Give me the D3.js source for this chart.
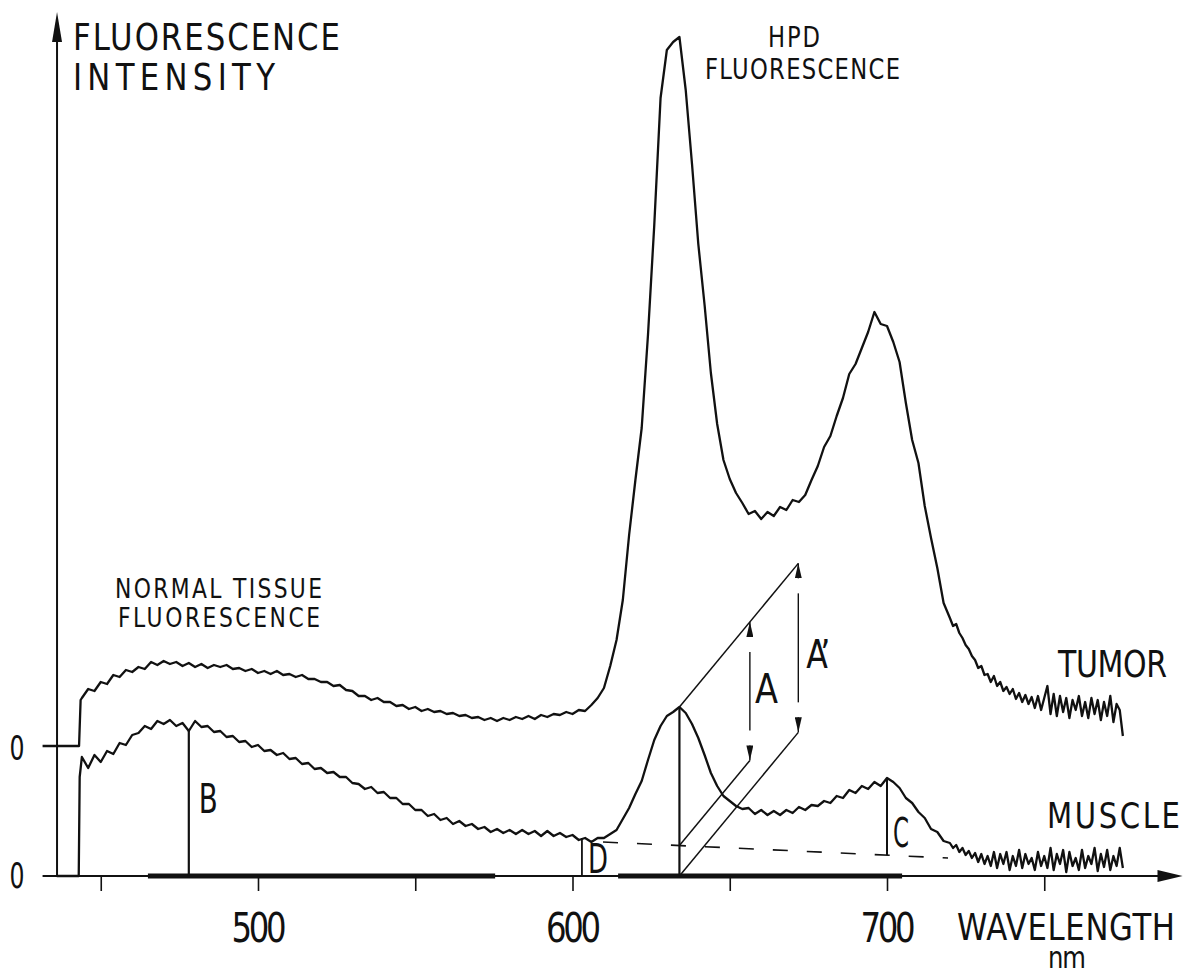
<!DOCTYPE html>
<html>
<head>
<meta charset="utf-8">
<script src="https://cdn.jsdelivr.net/npm/d3@7"></script>
<style>
  body { margin: 0; background: #fff; }
  svg text { font-family: "DejaVu Sans Condensed", "DejaVu Sans", sans-serif; fill: #111; }
</style>
</head>
<body>
<div id="chart"></div>
<script>
// svg area
var svgWidth = 1194;
var svgHeight = 975;

// wavelength grid (nm) the traces were read on: 2 nm steps, 1 nm in the noisy tails
var gridWl = d3.range(444, 721, 2).concat(d3.range(721, 776));

// tumor trace (arbitrary units above its own zero line)
var tumorLeadWl = [431.5, 443.1, 443.6];
var tumorLead = [0, 0, 46];
var tumorValues = [
  48, 57, 55, 64, 62, 71, 69, 76, 74, 79,
  77, 84, 81, 85, 82, 84, 80, 83, 79, 82,
  78, 81, 79, 81, 77, 78, 75, 77, 73, 75,
  72, 75, 71, 72, 69, 71, 67, 67, 64, 64,
  60, 61, 56, 55, 50, 50, 46, 48, 44, 44,
  40, 41, 37, 39, 35, 37, 34, 35, 32, 33,
  30, 31, 28, 29, 26, 28, 25, 28, 26, 29,
  27, 30, 27, 31, 29, 32, 31, 34, 32, 36,
  35, 41, 48, 58, 80, 106, 146, 211, 266, 318,
  411, 521, 648, 696, 704, 709, 656, 582, 502, 441,
  373, 322, 286, 267, 253, 243, 232, 235, 227, 234,
  230, 239, 236, 246, 244, 251, 266, 280, 299, 310,
  330, 348, 372, 382, 398, 414, 434, 422, 420, 404,
  384, 343, 306, 283, 240, 208, 178, 143, 128,
  120, 122, 113, 108, 101, 97, 90, 86, 78, 80,
  71, 72, 64, 70, 60, 64, 55, 59, 52, 57,
  47, 53, 44, 51, 42, 49, 38, 50, 36, 48,
  60, 32, 52, 30, 50, 34, 48, 28, 46, 36,
  50, 30, 44, 28, 48, 32, 46, 26, 44, 30,
  50, 24, 42, 36, 10
];

// muscle trace
var muscleLeadWl = [436, 443.0, 443.3];
var muscleLead = [0, 0, 99];
var muscleValues = [
  119, 108, 121, 114, 125, 122, 133, 131, 141, 143,
  150, 147, 155, 152, 156, 150, 153, 145, 155, 149,
  150, 144, 145, 139, 140, 134, 135, 129, 131, 125,
  126, 121, 123, 117, 118, 112, 113, 107, 108, 103,
  104, 99, 99, 93, 92, 87, 89, 83, 84, 78,
  78, 72, 72, 66, 66, 60, 62, 56, 58, 52,
  55, 50, 52, 47, 49, 44, 47, 43, 46, 42,
  46, 42, 45, 40, 45, 40, 43, 39, 41, 36,
  38, 34, 38, 38, 42, 46, 57, 68, 82, 95,
  116, 136, 150, 160, 164, 169, 163, 152, 138, 121,
  103, 90, 80, 75, 70, 67, 68, 62, 66, 61,
  65, 61, 66, 63, 69, 66, 71, 70, 75, 73,
  80, 78, 86, 83, 90, 87, 94, 90, 98, 94,
  88, 78, 73, 64, 58, 47, 44, 35, 33,
  28, 31, 24, 28, 21, 25, 18, 23, 14, 22,
  12, 20, 10, 24, 8, 22, 12, 24, 6, 20,
  10, 26, 8, 22, 12, 18, 6, 24, 10, 20,
  8, 28, 6, 22, 12, 26, 4, 24, 10, 18,
  6, 26, 8, 20, 12, 28, 5, 22, 9, 26,
  6, 20, 10, 28, 8
];

// tumor trace is drawn shifted up by this many units
var tumorOffset = 130;

// axis ticks and labels
var tickValues = [450, 500, 550, 600, 650, 700, 750];
var tickLabels = [500, 600, 700];

// thick segments on the wavelength axis (nm)
var bands = [[465, 575.4], [614.5, 704.8]];

// dashed background under the muscle peaks: [wavelength, value]
var background = [[609.7, 34], [719.4, 18]];

// marker wavelengths
var markB = 478;
var markD = 603;
var markPeak = 634;
var markC = 700;
var markA = 656.4;
var markAprime = 671.8;
var slopeA = 3.8;   // units per nm of the construction lines

// ------------------------------------------------------------------
var svg = d3.select("#chart")
  .append("svg")
  .attr("width", svgWidth)
  .attr("height", svgHeight);

var xScale = d3.scaleLinear().domain([500, 700]).range([258, 887]);
var yScale = d3.scaleLinear().domain([0, 866]).range([876, 10]);

var line = d3.line()
  .x(d => xScale(d[0]))
  .y(d => yScale(d[1]));

function pairs(leadWl, lead, values, offset) {
  var pts = leadWl.map((w, i) => [w, lead[i] + offset]);
  gridWl.forEach((w, i) => pts.push([w, values[i] + offset]));
  return pts;
}

function valueAt(wl, values) {
  var i = d3.leastIndex(gridWl, w => Math.abs(w - wl));
  return values[i];
}

function bgAt(wl) {
  var t = (wl - background[0][0]) / (background[1][0] - background[0][0]);
  return background[0][1] + t * (background[1][1] - background[0][1]);
}

function addLine(x1, y1, x2, y2, w) {
  return svg.append("line")
    .attr("x1", x1).attr("y1", y1)
    .attr("x2", x2).attr("y2", y2)
    .attr("stroke", "#111")
    .attr("stroke-width", w);
}

// lettering is narrow and widely spaced: squeeze glyphs a little, then spread to width
var squeeze = 0.9;
function addText(str, x, y, size, len, anchor) {
  return svg.append("text")
    .attr("transform", `translate(${x}, ${y}) scale(${squeeze}, 1)`)
    .attr("font-size", size)
    .attr("text-anchor", anchor || "start")
    .attr("textLength", len / squeeze)
    .attr("lengthAdjust", str.length > 1 ? "spacing" : "spacingAndGlyphs")
    .text(str);
}

// arrow marker for the A / A' arrows
var defs = svg.append("defs");
defs.append("marker")
  .attr("id", "head")
  .attr("markerUnits", "userSpaceOnUse")
  .attr("markerWidth", 15)
  .attr("markerHeight", 7)
  .attr("refX", 15)
  .attr("refY", 3.5)
  .attr("orient", "auto-start-reverse")
  .append("path")
  .attr("d", "M0,0 L15,3.5 L0,7 Z")
  .attr("fill", "#111");

// ---------------- axes
var y0 = yScale(0);
var yAxisX = xScale(436.1);

// vertical axis with arrow
addLine(yAxisX, y0, yAxisX, yScale(836), 2);
svg.append("path")
  .attr("d", `M${yAxisX},${yScale(864)} L${yAxisX + 5},${yScale(834)} L${yAxisX - 5},${yScale(834)} Z`)
  .attr("fill", "#111");

// horizontal axis with arrow
addLine(xScale(431.5), y0, xScale(788), y0, 2);
svg.append("path")
  .attr("d", `M${xScale(794)},${y0} L${xScale(786)},${y0 - 6} L${xScale(786)},${y0 + 6} Z`)
  .attr("fill", "#111");

bands.forEach(b => addLine(xScale(b[0]), y0, xScale(b[1]), y0, 5));

var bottomAxis = d3.axisBottom(xScale)
  .tickValues(tickValues)
  .tickSize(15)
  .tickFormat("");

var xAxis = svg.append("g")
  .attr("transform", `translate(0, ${y0})`)
  .call(bottomAxis);
xAxis.select(".domain").remove();
xAxis.selectAll(".tick line").attr("stroke", "#111").attr("stroke-width", 1.6);

tickLabels.forEach(d => addText(String(d), xScale(d) + 1, y0 + 66, 40, 55, "middle"));

// zero labels
addText("0", 17, yScale(tumorOffset) + 14, 34, 15, "middle");
addText("0", 17, y0 + 12, 35, 15, "middle");

// ---------------- traces
svg.append("path")
  .datum(pairs(tumorLeadWl, tumorLead, tumorValues, tumorOffset))
  .attr("d", line)
  .attr("fill", "none")
  .attr("stroke", "#111")
  .attr("stroke-width", 2.3)
  .attr("stroke-linejoin", "round");

svg.append("path")
  .datum(pairs(muscleLeadWl, muscleLead, muscleValues, 0))
  .attr("d", line)
  .attr("fill", "none")
  .attr("stroke", "#111")
  .attr("stroke-width", 2.3)
  .attr("stroke-linejoin", "round");

// ---------------- markers
// dashed background
svg.append("path")
  .datum(background)
  .attr("d", line)
  .attr("fill", "none")
  .attr("stroke", "#111")
  .attr("stroke-width", 1.6)
  .attr("stroke-dasharray", "15,19");

// B, D, peak and C verticals
addLine(xScale(markB), y0, xScale(markB), yScale(valueAt(markB, muscleValues)), 2.2);
addLine(xScale(markD), y0, xScale(markD), yScale(valueAt(604, muscleValues)), 1.8);
var peakVal = valueAt(markPeak, muscleValues);
addLine(xScale(markPeak), y0, xScale(markPeak), yScale(peakVal), 2.2);
addLine(xScale(markC), yScale(bgAt(markC)), xScale(markC), yScale(valueAt(markC, muscleValues)), 2);

// construction for A and A'
var bgPeak = bgAt(markPeak);
var dA = (markA - markPeak) * slopeA;
var dAp = (markAprime - markPeak) * slopeA;
addLine(xScale(markPeak), yScale(peakVal), xScale(markAprime), yScale(peakVal + dAp), 1.5);
addLine(xScale(markPeak), yScale(bgPeak), xScale(markA), yScale(bgPeak + dA), 1.5);
addLine(xScale(markPeak), y0, xScale(markAprime), yScale(dAp), 1.5);

// A arrow
addLine(xScale(markA), yScale(bgPeak + dA + 30), xScale(markA), yScale(peakVal + dA - 30), 1.4);
addLine(xScale(markA), yScale(peakVal + dA - 15), xScale(markA), yScale(peakVal + dA), 1.4)
  .attr("marker-end", "url(#head)");
addLine(xScale(markA), yScale(bgPeak + dA + 15), xScale(markA), yScale(bgPeak + dA), 1.4)
  .attr("marker-end", "url(#head)");

// A' arrow
addLine(xScale(markAprime), yScale(dAp + 30), xScale(markAprime), yScale(peakVal + dAp - 30), 1.4);
addLine(xScale(markAprime), yScale(peakVal + dAp - 15), xScale(markAprime), yScale(peakVal + dAp), 1.4)
  .attr("marker-end", "url(#head)");
addLine(xScale(markAprime), yScale(dAp + 15), xScale(markAprime), yScale(dAp), 1.4)
  .attr("marker-end", "url(#head)");

// letters
addText("B", xScale(markB) + 10, 813, 41, 19);
addText("D", xScale(markD) + 6, 873, 41, 20);
addText("A", xScale(markA) + 5, 703, 41, 23);
addText("A\u2019", xScale(markAprime) + 8, 668, 39, 24);
addText("C", xScale(markC) + 6, 847, 40, 16);

// ---------------- titles
addText("FLUORESCENCE", 73, 50, 38, 267);
addText("INTENSITY", 73, 90, 38, 202);
addText("HPD", 768, 47, 28, 52);
addText("FLUORESCENCE", 705, 79, 28, 195);
addText("NORMAL TISSUE", 115, 598, 27, 207);
addText("FLUORESCENCE", 118, 627, 27, 202);
addText("TUMOR", 1058, 677, 37, 109);
addText("MUSCLE", 1047, 828, 36, 133);
addText("WAVELENGTH", 957, 940, 38, 218);
addText("nm", 1048, 968, 30, 38);
</script>
</body>
</html>
